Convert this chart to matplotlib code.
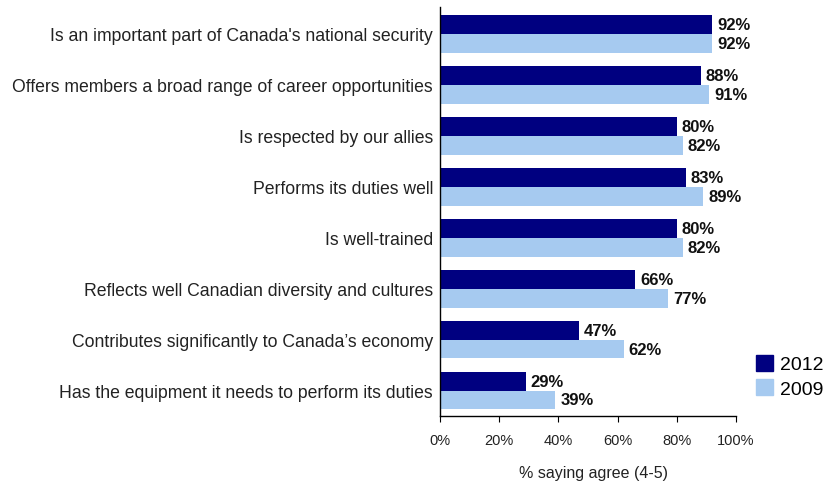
import numpy as np
import matplotlib.pyplot as plt
from matplotlib.patches import Patch
from matplotlib.ticker import PercentFormatter

categories = [
    "Is an important part of Canada's national security",
    "Offers members a broad range of career opportunities",
    "Is respected by our allies",
    "Performs its duties well",
    "Is well-trained",
    "Reflects well Canadian diversity and cultures",
    "Contributes significantly to Canada\u2019s economy",
    "Has the equipment it needs to perform its duties",
]
values_2012 = [92, 88, 80, 83, 80, 66, 47, 29]
values_2009 = [92, 91, 82, 89, 82, 77, 62, 39]

dark = "#000080"
light = "#A6CAF0"
font = ["Liberation Sans", "DejaVu Sans"]
text_col = "#222222"

fig = plt.figure(figsize=(8.26, 4.85), dpi=100)
ax = fig.add_axes([0.5327, 0.1402, 0.3584, 0.8433])

y = np.arange(len(categories))
h = 0.37
bars_a = ax.barh(y - h / 2, values_2012, height=h, color=dark)
bars_b = ax.barh(y + h / 2, values_2009, height=h, color=light)

for bars in (bars_a, bars_b):
    for b in bars:
        v = b.get_width()
        ax.annotate(f"{v:.0f}%", (v, b.get_y() + b.get_height() / 2),
                    xytext=(3.5, 0), textcoords="offset points",
                    va="center", ha="left", fontsize=12, fontweight="bold",
                    family=font, color="#111111")

ax.set_xlim(0, 100)
ax.set_ylim(len(categories) - 0.5, -0.53)
ax.set_xticks(range(0, 101, 20))
ax.xaxis.set_major_formatter(PercentFormatter(decimals=0))
ax.set_yticks(y)
ax.set_yticklabels(categories, family=font, fontsize=12.7, color=text_col)
ax.tick_params(axis="y", length=0, pad=5)
ax.tick_params(axis="x", length=4, direction="out", labelsize=10.5, pad=8,
               labelcolor=text_col)
for lbl in ax.get_xticklabels():
    lbl.set_family(font)

for side in ("top", "right"):
    ax.spines[side].set_visible(False)
ax.spines["left"].set_linewidth(1.0)
ax.spines["bottom"].set_linewidth(1.0)

ax.set_xlabel("% saying agree (4-5)", family=font, fontsize=11.5,
              color=text_col)
ax.xaxis.set_label_coords(0.517, -0.12)

handles = [Patch(color=dark, label="2012"), Patch(color=light, label="2009")]
fig.legend(handles=handles, loc="center left", bbox_to_anchor=(0.915, 0.222),
           frameon=False, prop={"family": font, "size": 14},
           handlelength=0.88, handleheight=0.88, handletextpad=0.35,
           labelspacing=0.3, borderaxespad=0, borderpad=0)

# company mark in the bottom-left corner, mostly below the edge
fig.text(0.045, 0.003, "EKOS Research", family=font, fontsize=10,
         fontweight="bold", color="#777777", va="top")
fig.text(0.004, 0.006, "\u25cf", fontsize=12, color="#1a1aa0", va="top")

fig.savefig("out.png", dpi=100)
